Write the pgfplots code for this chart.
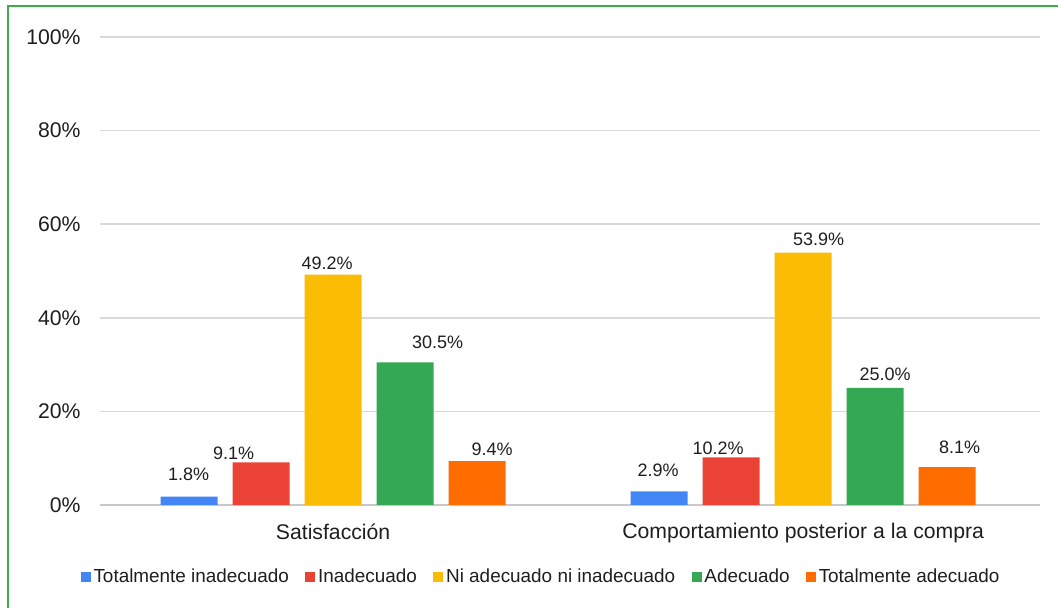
\documentclass[border=0pt]{standalone}
\usepackage{fontspec}
\setmainfont{Liberation Sans}
\usepackage{pgfplots}
\usepackage{pgfplotstable}
\pgfplotsset{compat=1.18}
\definecolor{cBlue}{HTML}{4285F4}
\definecolor{cRed}{HTML}{EA4335}
\definecolor{cYellow}{HTML}{FBBC04}
\definecolor{cGreen}{HTML}{34A853}
\definecolor{cOrange}{HTML}{FF6D01}
\definecolor{cBorder}{RGB}{62,174,73}
\definecolor{cGrid}{RGB}{217,217,217}
\definecolor{cBase}{RGB}{200,200,200}
\definecolor{cText}{RGB}{30,30,30}

% x = category, y = value, dx/dy = label offsets (pt)
\pgfplotstableread{
x y dx dy
0 1.8 -0.25 7.7
1 2.9 -0.5 7.2
}\tblA
\pgfplotstableread{
x y dx dy
0 9.1 -13.75 0.95
1 10.2 -6.5 1.2
}\tblB
\pgfplotstableread{
x y dx dy
0 49.2 -3 2.45
1 53.9 7.75 3.2
}\tblC
\pgfplotstableread{
x y dx dy
0 30.5 16.25 6.45
1 25.0 5 3.7
}\tblD
\pgfplotstableread{
x y dx dy
0 9.4 7.5 2.7
1 8.1 6.25 6.45
}\tblE

\begin{document}
\begin{tikzpicture}
\useasboundingbox (0,0) rectangle (529pt,304pt);
\draw[cBorder, line width=1pt] (4pt,-2pt) -- (4pt,301pt) -- (531pt,301pt);
\begin{axis}[
  at={(50pt,51.5pt)}, anchor=south west,
  scale only axis, width=470pt, height=234pt,
  ybar=7.5pt, bar width=28.5pt,
  xmin=-0.496, xmax=1.504, ymin=0, ymax=100,
  xtick={0,1},
  xticklabels={Satisfacción,Comportamiento posterior a la compra},
  ytick={0,20,40,60,80,100},
  yticklabels={0\%,20\%,40\%,60\%,80\%,100\%},
  extra y ticks={0}, extra y tick labels={},
  extra y tick style={grid style={cBase, line width=0.8pt}},
  axis line style={draw=none},
  major tick length=0pt,
  ymajorgrids,
  grid style={cGrid, line width=0.8pt},
  /pgf/number format/assume math mode=true,
  tick label style={font=\fontsize{10.6}{12}\selectfont, text=cText},
  yticklabel style={inner sep=0pt, xshift=-9.5pt},
  xticklabel style={inner sep=0pt, yshift=-9pt, anchor=north},
  legend image code/.code={\fill[#1] (0pt,-2.5pt) rectangle (5pt,2.5pt);},
  legend style={at={(0.4697,-0.1538)}, anchor=center, draw=none, fill=none,
    legend columns=-1, font=\fontsize{9.45}{11}\selectfont, text=cText,
    nodes={inner sep=1.4pt},
    /tikz/every even column/.append style={column sep=6.8pt}},
  clip=false,
]
\pgfplotsset{lbl/.style={
  visualization depends on={\thisrow{dx}\as\dxv},
  visualization depends on={\thisrow{dy}\as\dyv},
  nodes near coords={\pgfmathprintnumber[fixed,fixed zerofill,precision=1]{\pgfplotspointmeta}\%},
  nodes near coords style={font=\fontsize{9}{10}\selectfont, text=cText, inner sep=0pt, xshift=\dxv pt, yshift=\dyv pt},
}}
\addplot[fill=cBlue, draw=none, lbl] table[x=x,y=y] {\tblA};
\addlegendentry{Totalmente inadecuado}
\addplot[fill=cRed, draw=none, lbl] table[x=x,y=y] {\tblB};
\addlegendentry{Inadecuado}
\addplot[fill=cYellow, draw=none, lbl] table[x=x,y=y] {\tblC};
\addlegendentry{Ni adecuado ni inadecuado}
\addplot[fill=cGreen, draw=none, lbl] table[x=x,y=y] {\tblD};
\addlegendentry{Adecuado}
\addplot[fill=cOrange, draw=none, lbl] table[x=x,y=y] {\tblE};
\addlegendentry{Totalmente adecuado}
\end{axis}
\end{tikzpicture}
\end{document}
